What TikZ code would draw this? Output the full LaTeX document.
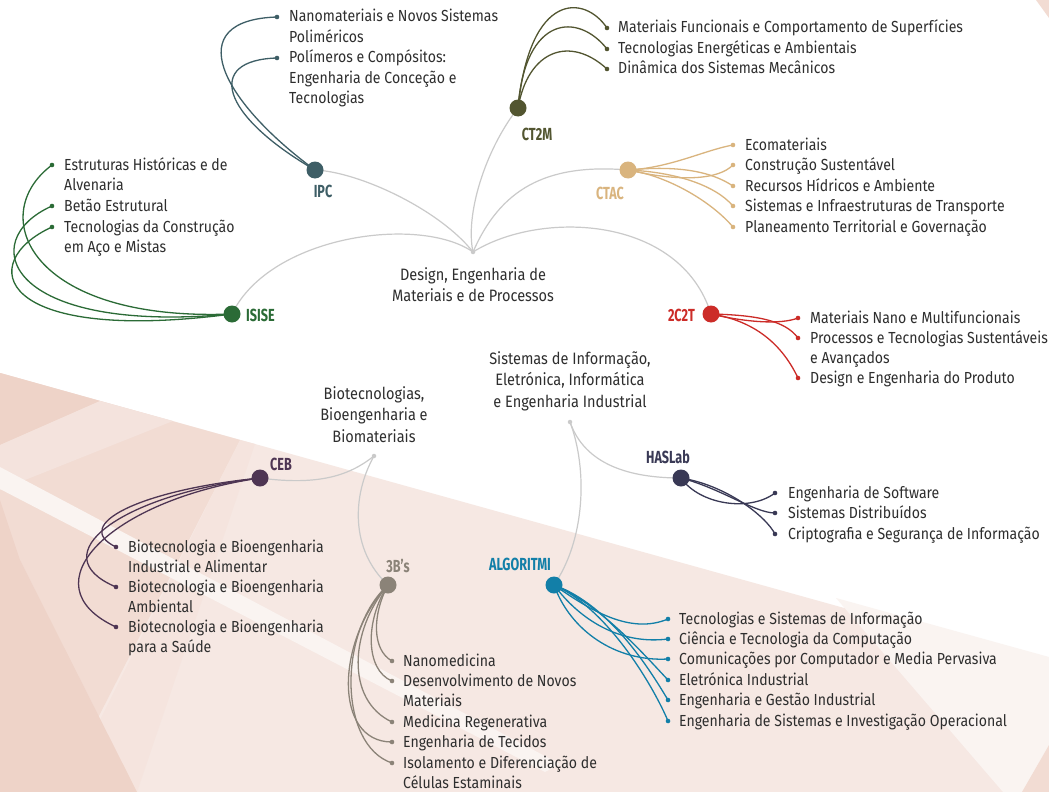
\documentclass[tikz,border=0pt]{standalone}
\usepackage{fontspec}
\setmainfont[FakeStretch=0.88]{Fira Sans}
\newfontfamily\lblfont[FakeStretch=0.72]{Fira Sans}
\pgfdeclarelayer{paper}
\pgfdeclarelayer{links}
\pgfsetlayers{paper,links,main}
\definecolor{txt}{HTML}{2E2E2E}
\definecolor{stemgrey}{HTML}{CACACA}
\definecolor{cIPC}{HTML}{3E5E66}
\definecolor{cCTM}{HTML}{525530}
\definecolor{cCTAC}{HTML}{D9B47E}
\definecolor{cISISE}{HTML}{2B6B36}
\definecolor{cCCT}{HTML}{CC2C28}
\definecolor{cCEB}{HTML}{4E3553}
\definecolor{cTB}{HTML}{8B8378}
\definecolor{cALG}{HTML}{127FA8}
\definecolor{cHAS}{HTML}{393955}
\definecolor{bgA}{HTML}{F6E8E3}
\definecolor{bgB}{HTML}{F2DCD3}
\definecolor{bgC}{HTML}{EED3C8}
\definecolor{bgD}{HTML}{FAF4F1}
\definecolor{bgE}{HTML}{F5E4DE}
\newcommand{\lft}[1]{\vtop{\baselineskip=20.3pt\halign{##\hfil\cr#1\crcr}}}
\newcommand{\ctr}[1]{\vtop{\baselineskip=21.5pt\halign{\hfil##\hfil\cr#1\crcr}}}
\tikzset{
  unit/.style={circle, inner sep=0pt, minimum size=17pt, fill=#1},
  leafdot/.style={circle, inner sep=0pt, minimum size=4.6pt, fill=#1},
  hubdot/.style={circle, inner sep=0pt, minimum size=4.5pt, fill=stemgrey},
  leaftext/.style={anchor=base west, inner sep=0pt, text=txt, font=\fontsize{16}{20.3}\selectfont},
  hubtext/.style={anchor=base, inner sep=0pt, text=txt, font=\fontsize{16.5}{21.5}\selectfont},
  lbl/.style={anchor=base, inner sep=0pt, text=#1, font=\lblfont\bfseries\fontsize{17.5}{18}\selectfont},
  branch/.style={draw=#1, line width=1.3pt},
  stem/.style={draw=stemgrey, line width=1.2pt}
}
\begin{document}
\begin{tikzpicture}[x=1pt,y=-1pt]
\useasboundingbox (0,0) rectangle (1049,792);
% ---------------- background ----------------
\begin{pgfonlayer}{paper}
\fill[white] (0,0) rectangle (1049,792);
\fill[bgA] (0,373) -- (1049,665) -- (1049,792) -- (0,792) -- cycle;
\fill[bgD] (836,598) -- (1049,657) -- (1049,792) -- (1003,792) -- cycle;
\fill[bgB] (1049,745) -- (1049,792) -- (1022,792) -- cycle;
\fill[bgB] (0,373) -- (240,440) -- (60,792) -- (0,792) -- cycle;
\fill[bgE] (100,720) -- (180,560) -- (240,440) -- (255,444) -- (137,792) -- (100,792) -- cycle;
\fill[bgC] (0,373) -- (100,401) -- (0,445) -- cycle;
\fill[bgC] (0,500) -- (20,560) -- (137,792) -- (0,792) -- cycle;
\fill[bgA!60!bgB] (100,401) -- (173,421) -- (0,490) -- (0,445) -- cycle;
\fill[bgD] (0,467) -- (0,489) -- (545,772) -- (560,764) -- cycle;
\fill[bgB] (1036,0) -- (1049,0) -- (1049,18) -- cycle;
\end{pgfonlayer}
% ---------------- hubs ----------------
\node[hubdot] (hub1) at (473,252) {};
\node[hubdot] (hub2) at (374,456) {};
\node[hubdot] (hub3) at (570,422) {};
\node[hubtext] (hub1t) at (473,280) {\ctr{Design, Engenharia de\cr Materiais e de Processos}};
\node[hubtext] (hub2t) at (374,399) {\ctr{Biotecnologias,\cr Bioengenharia e\cr Biomateriais}};
\node[hubtext] (hub3t) at (570,364) {\ctr{Sistemas de Informação,\cr Eletrónica, Informática\cr e Engenharia Industrial}};
% ---------------- units ----------------
\node[unit=cIPC] (ipc) at (315,170) {};
\node[unit=cCTM] (ctm) at (518,108) {};
\node[unit=cCTAC] (ctac) at (628,170) {};
\node[unit=cISISE] (isise) at (232,314) {};
\node[unit=cCCT] (cct) at (711,314) {};
\node[unit=cCEB] (ceb) at (260,478) {};
\node[unit=cTB] (tbs) at (388,585) {};
\node[unit=cALG] (alg) at (554,585) {};
\node[unit=cHAS] (has) at (681,478) {};
\node[lbl=cIPC] (ipcl) at (323,197) {IPC};
\node[lbl=cCTM] (ctml) at (537,140) {CT2M};
\node[lbl=cCTAC] (ctacl) at (610,199) {CTAC};
\node[lbl=cISISE, anchor=base west] (isisel) at (246,321) {ISISE};
\node[lbl=cCCT, anchor=base east] (cctl) at (695,321) {2C2T};
\node[lbl=cCEB] (cebl) at (281,470) {CEB};
\node[lbl=cTB] (tbsl) at (398,572) {3B’s};
\node[lbl=cALG] (algl) at (520,570) {ALGORITMI};
\node[lbl=cHAS] (hasl) at (668,463) {HASLab};
% ---------------- leaves ----------------
% IPC
\node[leafdot=cIPC] (ipc1) at (277,17) {};
\node[leafdot=cIPC] (ipc2) at (277,58) {};
\node[leaftext] (ipc1t) at (289,22) {\lft{Nanomateriais e Novos Sistemas\cr Poliméricos}};
\node[leaftext] (ipc2t) at (289,63) {\lft{Polímeros e Compósitos:\cr Engenharia de Conceção e\cr Tecnologias}};
% CT2M
\node[leafdot=cCTM] (ctm1) at (607,28) {};
\node[leafdot=cCTM] (ctm2) at (607,49) {};
\node[leafdot=cCTM] (ctm3) at (607,69) {};
\node[leaftext] (ctm1t) at (618,33) {Materiais Funcionais e Comportamento de Superfícies};
\node[leaftext] (ctm2t) at (618,54) {Tecnologias Energéticas e Ambientais};
\node[leaftext] (ctm3t) at (618,74) {Dinâmica dos Sistemas Mecânicos};
% CTAC
\node[leafdot=cCTAC] (ctac1) at (733,145) {};
\node[leafdot=cCTAC] (ctac2) at (733,165) {};
\node[leafdot=cCTAC] (ctac3) at (733,186) {};
\node[leafdot=cCTAC] (ctac4) at (733,206) {};
\node[leafdot=cCTAC] (ctac5) at (733,227) {};
\node[leaftext] (ctac1t) at (745,150) {Ecomateriais};
\node[leaftext] (ctac2t) at (745,170) {Construção Sustentável};
\node[leaftext] (ctac3t) at (745,191) {Recursos Hídricos e Ambiente};
\node[leaftext] (ctac4t) at (745,211) {Sistemas e Infraestruturas de Transporte};
\node[leaftext] (ctac5t) at (745,232) {Planeamento Territorial e Governação};
% ISISE
\node[leafdot=cISISE] (isise1) at (52,165) {};
\node[leafdot=cISISE] (isise2) at (52,206) {};
\node[leafdot=cISISE] (isise3) at (52,227) {};
\node[leaftext] (isise1t) at (64,170) {\lft{Estruturas Históricas e de\cr Alvenaria}};
\node[leaftext] (isise2t) at (64,211) {Betão Estrutural};
\node[leaftext] (isise3t) at (64,232) {\lft{Tecnologias da Construção\cr em Aço e Mistas}};
% 2C2T
\node[leafdot=cCCT] (cct1) at (798,318) {};
\node[leafdot=cCCT] (cct2) at (798,338) {};
\node[leafdot=cCCT] (cct3) at (798,378) {};
\node[leaftext] (cct1t) at (810,323) {Materiais Nano e Multifuncionais};
\node[leaftext] (cct2t) at (810,343) {\lft{Processos e Tecnologias Sustentáveis\cr e Avançados}};
\node[leaftext] (cct3t) at (810,383) {Design e Engenharia do Produto};
% CEB
\node[leafdot=cCEB] (ceb1) at (116,547) {};
\node[leafdot=cCEB] (ceb2) at (116,587) {};
\node[leafdot=cCEB] (ceb3) at (116,627) {};
\node[leaftext] (ceb1t) at (128,552) {\lft{Biotecnologia e Bioengenharia\cr Industrial e Alimentar}};
\node[leaftext] (ceb2t) at (128,592) {\lft{Biotecnologia e Bioengenharia\cr Ambiental}};
\node[leaftext] (ceb3t) at (128,632) {\lft{Biotecnologia e Bioengenharia\cr para a Saúde}};
% 3B's
\node[leafdot=cTB] (tbs1) at (392,661) {};
\node[leafdot=cTB] (tbs2) at (392,681) {};
\node[leafdot=cTB] (tbs3) at (392,722) {};
\node[leafdot=cTB] (tbs4) at (392,742) {};
\node[leafdot=cTB] (tbs5) at (392,763) {};
\node[leaftext] (tbs1t) at (403,666) {Nanomedicina};
\node[leaftext] (tbs2t) at (403,686) {\lft{Desenvolvimento de Novos\cr Materiais}};
\node[leaftext] (tbs3t) at (403,727) {Medicina Regenerativa};
\node[leaftext] (tbs4t) at (403,747) {Engenharia de Tecidos};
\node[leaftext] (tbs5t) at (403,768) {\lft{Isolamento e Diferenciação de\cr Células Estaminais}};
% ALGORITMI
\node[leafdot=cALG] (alg1) at (668,619) {};
\node[leafdot=cALG] (alg2) at (668,639) {};
\node[leafdot=cALG] (alg3) at (668,659) {};
\node[leafdot=cALG] (alg4) at (668,680) {};
\node[leafdot=cALG] (alg5) at (668,700) {};
\node[leafdot=cALG] (alg6) at (668,721) {};
\node[leaftext] (alg1t) at (679,624) {Tecnologias e Sistemas de Informação};
\node[leaftext] (alg2t) at (679,644) {Ciência e Tecnologia da Computação};
\node[leaftext] (alg3t) at (679,664) {Comunicações por Computador e Media Pervasiva};
\node[leaftext] (alg4t) at (679,685) {Eletrónica Industrial};
\node[leaftext] (alg5t) at (679,705) {Engenharia e Gestão Industrial};
\node[leaftext] (alg6t) at (679,726) {Engenharia de Sistemas e Investigação Operacional};
% HASLab
\node[leafdot=cHAS] (has1) at (775,493) {};
\node[leafdot=cHAS] (has2) at (775,513) {};
\node[leafdot=cHAS] (has3) at (775,534) {};
\node[leaftext] (has1t) at (788,498) {Engenharia de Software};
\node[leaftext] (has2t) at (788,518) {Sistemas Distribuídos};
\node[leaftext] (has3t) at (788,539) {Criptografia e Segurança de Informação};
% ---------------- connectors ----------------
\begin{pgfonlayer}{links}
% grey stems
\draw[stem] (hub1.center) .. controls (420,215) and (270,235) .. (isise.center);
\draw[stem] (hub1.center) .. controls (440,210) and (360,172) .. (ipc.center);
\draw[stem] (ctm.center) .. controls (485,150) and (465,215) .. (hub1.center);
\draw[stem] (hub1.center) .. controls (500,190) and (545,163) .. (ctac.center);
\draw[stem] (hub1.center) .. controls (540,210) and (680,215) .. (cct.center);
\draw[stem] (ceb.center) .. controls (320,486) and (350,475) .. (hub2.center);
\draw[stem] (hub2.center) .. controls (352,495) and (350,550) .. (tbs.center);
\draw[stem] (hub3.center) .. controls (585,465) and (630,478) .. (has.center);
\draw[stem] (hub3.center) .. controls (588,470) and (585,540) .. (alg.center);
% IPC
\draw[branch=cIPC] (ipc.center) .. controls (220,100) and (180,20) .. (ipc1.center);
\draw[branch=cIPC] (ipc.center) .. controls (220,115) and (205,60) .. (ipc2.center);
% CT2M
\draw[branch=cCTM] (ctm.center) .. controls (530,-10) and (585,-5) .. (ctm1.center);
\draw[branch=cCTM] (ctm.center) .. controls (525,15) and (578,12) .. (ctm2.center);
\draw[branch=cCTM] (ctm.center) .. controls (528,50) and (570,35) .. (ctm3.center);
% CTAC
\draw[branch=cCTAC] (ctac.center) .. controls (670,168) and (705,150) .. (ctac1.center);
\draw[branch=cCTAC] (ctac.center) .. controls (680,182) and (718,180) .. (ctac2.center);
\draw[branch=cCTAC] (ctac.center) .. controls (680,165) and (712,172) .. (ctac3.center);
\draw[branch=cCTAC] (ctac.center) .. controls (675,172) and (715,185) .. (ctac4.center);
\draw[branch=cCTAC] (ctac.center) .. controls (665,175) and (710,200) .. (ctac5.center);
% ISISE
\draw[branch=cISISE] (isise.center) .. controls (30,322) and (-15,215) .. (isise1.center);
\draw[branch=cISISE] (isise.center) .. controls (5,335) and (-25,240) .. (isise2.center);
\draw[branch=cISISE] (isise.center) .. controls (-5,345) and (-25,262) .. (isise3.center);
% 2C2T
\draw[branch=cCCT] (cct.center) .. controls (745,322) and (780,325) .. (cct1.center);
\draw[branch=cCCT] (cct.center) .. controls (755,315) and (785,320) .. (cct2.center);
\draw[branch=cCCT] (cct.center) .. controls (750,320) and (780,340) .. (cct3.center);
% CEB
\draw[branch=cCEB] (ceb.center) .. controls (140,490) and (70,525) .. (ceb1.center);
\draw[branch=cCEB] (ceb.center) .. controls (120,495) and (40,555) .. (ceb2.center);
\draw[branch=cCEB] (ceb.center) .. controls (110,500) and (25,585) .. (ceb3.center);
% 3B's
\draw[branch=cTB] (tbs.center) .. controls (372,615) and (372,650) .. (tbs1.center);
\draw[branch=cTB] (tbs.center) .. controls (365,620) and (365,670) .. (tbs2.center);
\draw[branch=cTB] (tbs.center) .. controls (350,630) and (345,700) .. (tbs3.center);
\draw[branch=cTB] (tbs.center) .. controls (336,640) and (333,742) .. (tbs4.center);
\draw[branch=cTB] (tbs.center) .. controls (338,630) and (338,745) .. (tbs5.center);
% ALGORITMI
\draw[branch=cALG] (alg.center) .. controls (590,610) and (630,635) .. (alg1.center);
\draw[branch=cALG] (alg.center) .. controls (580,620) and (620,645) .. (alg2.center);
\draw[branch=cALG] (alg.center) .. controls (570,630) and (615,662) .. (alg3.center);
\draw[branch=cALG] (alg.center) .. controls (600,605) and (640,650) .. (alg4.center);
\draw[branch=cALG] (alg.center) .. controls (610,605) and (650,670) .. (alg5.center);
\draw[branch=cALG] (alg.center) .. controls (610,610) and (655,690) .. (alg6.center);
% HASLab
\draw[branch=cHAS] (has.center) .. controls (700,505) and (750,512) .. (has1.center);
\draw[branch=cHAS] (has.center) .. controls (720,488) and (755,513) .. (has2.center);
\draw[branch=cHAS] (has.center) .. controls (725,485) and (765,515) .. (has3.center);
\end{pgfonlayer}
\end{tikzpicture}
\end{document}
